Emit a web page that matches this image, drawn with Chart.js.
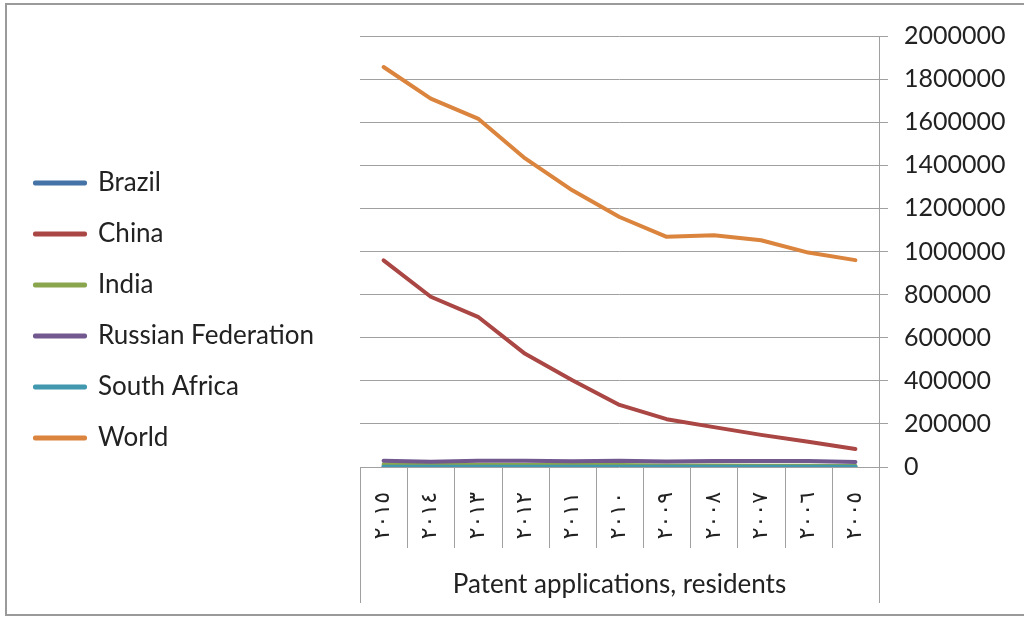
<!DOCTYPE html>
<html>
<head>
<meta charset="utf-8">
<script src="https://cdn.jsdelivr.net/npm/chart.js@4.4.1/dist/chart.umd.min.js"></script>
<style>
  html, body { margin: 0; padding: 0; background: #fff; }
  #wrap { position: relative; width: 1024px; height: 617px; overflow: hidden; }
  #frame { position: absolute; left: 5px; top: 3px; width: 1100px; height: 613px; box-sizing: border-box;
           border: 2px solid #9a9a9a; pointer-events: none; }
</style>
</head>
<body>
<div id="wrap">
  <canvas id="c" width="1024" height="617"></canvas>
  <div id="frame"></div>
</div>
<script>
// Categories (years written in Arabic-Indic digits, newest first)
const categories = ['٢٠١٥', '٢٠١٤', '٢٠١٣', '٢٠١٢', '٢٠١١', '٢٠١٠', '٢٠٠٩', '٢٠٠٨', '٢٠٠٧', '٢٠٠٦', '٢٠٠٥'];

const seriesNames = ['Brazil', 'China', 'India', 'Russian Federation', 'South Africa', 'World'];

const brazil      = [4641, 4659, 4959, 4798, 4695, 4228, 4271, 4280, 4194, 3956, 4054];
const china       = [959000, 790000, 697000, 525000, 403000, 288000, 222000, 185000, 149000, 117000, 84000];
const india       = [12579, 12040, 10669, 9553, 8841, 8853, 7262, 6425, 6296, 5314, 4721];
const russia      = [29269, 24072, 28765, 28701, 26495, 28722, 25598, 27712, 27505, 27884, 23644];
const southAfrica = [802, 777, 750, 638, 711, 821, 822, 917, 915, 1022, 1008];
const world       = [1856000, 1709000, 1617000, 1432000, 1284000, 1160000, 1068000, 1075000, 1052000, 995000, 960000];

const yTicks = [0, 200000, 400000, 600000, 800000, 1000000, 1200000, 1400000, 1600000, 1800000, 2000000];
const xAxisTitle = 'Patent applications, residents';

const colors = ['#4572A7', '#AA4643', '#89A54E', '#71588F', '#4198AF', '#DB843D'];
const seriesValues = [brazil, china, india, russia, southAfrica, world];

const gridColor = '#a0a0a0';
const textColor = '#222222';
const FONT = 'Lato';

const datasets = seriesValues.map((vals, i) => ({
  label: seriesNames[i],
  data: vals,
  borderColor: colors[i],
  backgroundColor: colors[i],
  borderWidth: 4,
  pointRadius: 0,
  pointHoverRadius: 0,
  tension: 0,
  borderCapStyle: 'round',
  borderJoinStyle: 'round',
  fill: false,
  order: seriesValues.length - i,
  yAxisID: 'y'
}));

// draws the Excel-style category box below the plot
const categoryBox = {
  id: 'categoryBox',
  afterDraw(chart) {
    const xs = chart.scales.x;
    const ctx = chart.ctx;
    const n = categories.length;
    const half = (xs.getPixelForValue(1) - xs.getPixelForValue(0)) / 2;
    const bandBottom = xs.top + 81;
    ctx.save();
    ctx.strokeStyle = gridColor;
    ctx.lineWidth = 1;
    ctx.beginPath();
    for (let i = 0; i <= n; i++) {
      const px = Math.round(i < n ? xs.getPixelForValue(i) - half : xs.getPixelForValue(n - 1) + half) + 0.5;
      const yEnd = (i === 0 || i === n) ? xs.bottom : bandBottom;
      ctx.moveTo(px, xs.top);
      ctx.lineTo(px, yEnd);
    }
    ctx.stroke();
    ctx.restore();
  }
};

new Chart(document.getElementById('c'), {
  type: 'line',
  data: { labels: categories, datasets },
  plugins: [categoryBox],
  options: {
    responsive: false,
    animation: false,
    events: [],
    layout: { padding: { left: 10, top: 18, right: 0, bottom: 14 } },
    plugins: {
      tooltip: { enabled: false },
      legend: {
        position: 'left',
        align: 'center',
        maxWidth: 340,
        labels: {
          color: textColor,
          font: { family: FONT, size: 26 },
          boxWidth: 50,
          boxHeight: 1,
          padding: 25,
          sort: (a, b) => a.datasetIndex - b.datasetIndex
        }
      }
    },
    scales: {
      gap: {
        type: 'linear',
        position: 'left',
        display: true,
        grid: { display: false },
        border: { display: false },
        ticks: { display: false },
        afterFit(s) { s.width = Math.max(0, 350 - s.chart.legend.width); }
      },
      x: {
        type: 'category',
        offset: true,
        grid: { display: false },
        border: { display: false },
        ticks: {
          autoSkip: false,
          maxRotation: 90,
          minRotation: 90,
          padding: 17,
          color: textColor,
          font: { family: 'DejaVu Sans', size: 22 }
        },
        title: {
          display: true,
          text: xAxisTitle,
          color: textColor,
          font: { family: FONT, size: 26 },
          padding: { top: 3, bottom: 3 }
        },
        afterFit(s) { s.height = 136; }
      },
      y: {
        type: 'linear',
        position: 'right',
        min: 0,
        max: 2000000,
        afterBuildTicks(s) { s.ticks = yTicks.map(v => ({ value: v })); },
        grid: { color: gridColor, lineWidth: 1, tickLength: 9, drawTicks: true },
        border: { display: true, color: gridColor, width: 1 },
        ticks: {
          padding: 16,
          color: textColor,
          font: { family: FONT, size: 25 },
          callback: v => String(v)
        },
        afterFit(s) { s.width = 145; s.paddingTop = 36; }
      }
    }
  }
});
</script>
</body>
</html>
